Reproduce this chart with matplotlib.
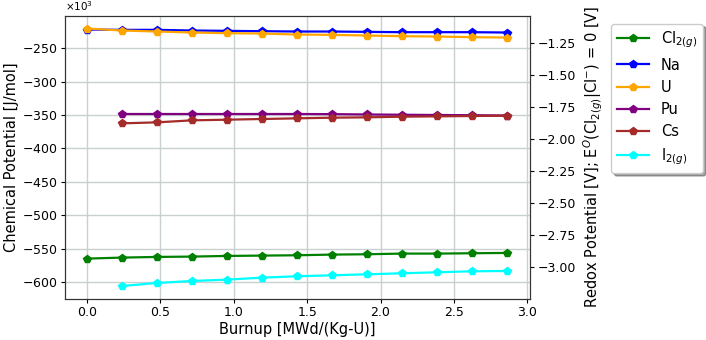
import matplotlib
matplotlib.use("Agg")
import matplotlib.pyplot as plt
import numpy as np

burnup = [0.0, 0.238, 0.477, 0.715, 0.954, 1.192, 1.430, 1.669, 1.907, 2.146, 2.384, 2.623, 2.861]
burnup_fp = burnup[1:]

# chemical potentials in kJ/mol (plotted in J/mol)
cl2 = [-565, -563.5, -562.5, -562, -561, -560.5, -560, -559, -558.5, -557.5, -557.5, -557, -556.5]
na = [-222, -222.5, -222.5, -223.5, -224, -224.5, -225, -225, -225.5, -226, -226, -226, -226.5]
u = [-220.5, -223.5, -225, -226.5, -227.5, -228, -229.5, -230, -231, -232, -232.5, -233.5, -234]
pu = [-348.5, -348.5, -348.5, -348.5, -348.5, -348.5, -348.7, -349.2, -349.6, -350, -350.3, -350.8]
cs = [-362.5, -361, -358, -357, -356, -355, -354, -353.5, -352.5, -352, -351.5, -351]
i2 = [-606, -601.5, -598.5, -596.5, -593.5, -591.5, -590, -588.5, -587, -585.5, -584, -583.5]

series = [
    (burnup, cl2, "green", r"Cl$_{2(g)}$"),
    (burnup, na, "blue", "Na"),
    (burnup, u, "orange", "U"),
    (burnup_fp, pu, "purple", "Pu"),
    (burnup_fp, cs, "brown", "Cs"),
    (burnup_fp, i2, "cyan", r"I$_{2(g)}$"),
]

fig = plt.figure(figsize=(7.06, 3.40), dpi=100)
ax = fig.add_axes([0.092, 0.121, 0.659, 0.833])
for x, y, c, lab in series:
    ax.plot(x, np.array(y) * 1e3, color=c, marker="p", markersize=5.5, lw=1.6, label=lab)

ax.grid(True, color="#c8d0d0", lw=1.0)
ax.set_axisbelow(True)
ax.set_xlim(-0.15, 3.02)
ax.set_xticks([0.0, 0.5, 1.0, 1.5, 2.0, 2.5, 3.0])
ax.ticklabel_format(axis="y", style="sci", scilimits=(3, 3), useMathText=True)
ax.yaxis.get_offset_text().set_fontsize(7.5)
ax.set_xlabel("Burnup [MWd/(Kg-U)]", fontsize=10.5, labelpad=2)
ax.set_ylabel("Chemical Potential [J/mol]", fontsize=10.5, labelpad=2)
ax.tick_params(labelsize=9, length=3, pad=2.5)
for s in ax.spines.values():
    s.set_color("#333333")

ax2 = ax.twinx()
ax2.set_ylim(-3.252, -1.034)
ax2.set_yticks([-1.25, -1.5, -1.75, -2.0, -2.25, -2.5, -2.75, -3.0])
ax2.set_ylabel(r"Redox Potential [V]; E$^{O}$(Cl$_{2(g)}$|Cl$^{-}$) = 0 [V]", fontsize=10.5, labelpad=4)
ax2.tick_params(labelsize=9, length=3, pad=2.5)
for s in ax2.spines.values():
    s.set_color("#333333")

h, l = ax.get_legend_handles_labels()
fig.legend(h, l, loc="upper left", bbox_to_anchor=(0.866, 0.93), fontsize=10.5,
           shadow=True, labelspacing=0.5, handlelength=2.2, borderaxespad=0)

fig.savefig("out.png", dpi=100)
